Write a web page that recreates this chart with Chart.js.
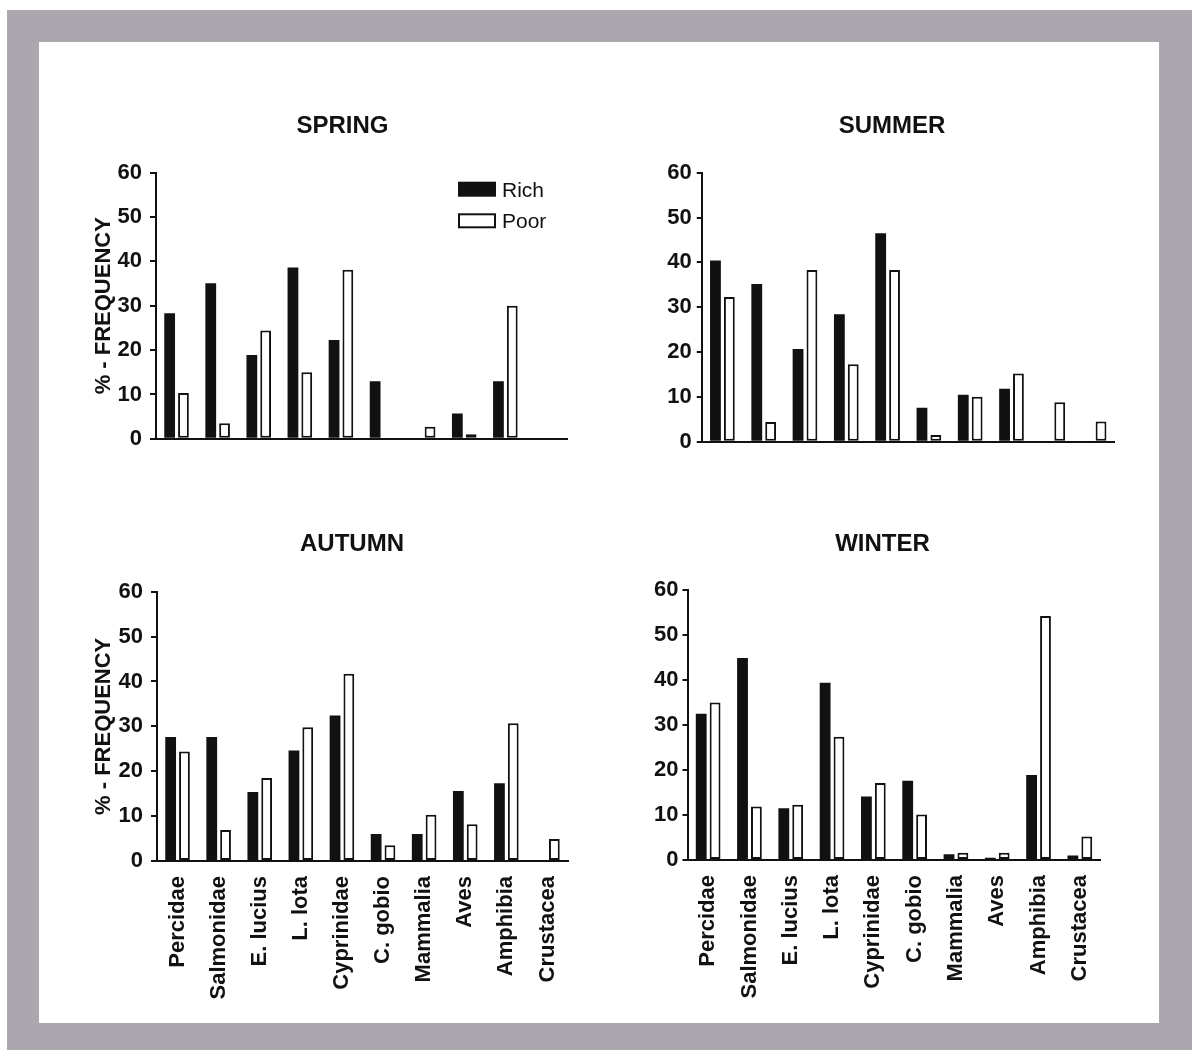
<!DOCTYPE html>
<html>
<head>
<meta charset="utf-8">
<script src="https://cdn.jsdelivr.net/npm/chart.js@4.4.0/dist/chart.umd.min.js"></script>
<style>
body{margin:0;width:1192px;height:1050px;background:#fff;position:relative;overflow:hidden}
#frame{position:absolute;left:7px;top:10px;width:1185px;height:1040px;background:#aca6ae}
#inner{position:absolute;left:32px;top:32px;width:1120px;height:981px;background:#fff}
canvas{position:absolute}
</style>
</head>
<body>
<div id="frame"><div id="inner"></div></div>
<canvas id="spring"></canvas>
<canvas id="summer"></canvas>
<canvas id="autumn"></canvas>
<canvas id="winter"></canvas>
<script>
// prey categories, same for all four seasons
var categories = ['Percidae', 'Salmonidae', 'E. lucius', 'L. lota', 'Cyprinidae',
                  'C. gobio', 'Mammalia', 'Aves', 'Amphibia', 'Crustacea'];
var seriesNames = ['Rich', 'Poor'];
var yTicks = [0, 10, 20, 30, 40, 50, 60];
var yTitle = '% - FREQUENCY';

var springRich = [28.3, 35.1, 18.9, 38.6, 22.3, 13.0, 0, 5.7, 13.0, 0];
var springPoor = [10.3, 3.5, 24.4, 15.0, 38.1, 0, 2.7, 1.0, 30.0, 0];
var summerRich = [40.4, 35.2, 20.7, 28.4, 46.5, 7.6, 10.5, 11.8, 0, 0];
var summerPoor = [32.3, 4.4, 38.3, 17.3, 38.3, 1.5, 10.0, 15.2, 8.8, 4.5];
var autumnRich = [27.6, 27.6, 15.4, 24.6, 32.4, 6.0, 6.0, 15.6, 17.3, 0];
var autumnPoor = [24.4, 6.9, 18.5, 29.8, 41.7, 3.5, 10.3, 8.2, 30.7, 4.9];
var winterRich = [32.5, 44.9, 11.5, 39.4, 14.1, 17.6, 1.3, 0.5, 18.9, 1.0];
var winterPoor = [35.0, 11.9, 12.3, 27.4, 17.1, 10.1, 1.6, 1.6, 54.2, 5.2];

var INK = '#111';
var NARROW = '"Liberation Sans Narrow", "Arial Narrow", "Liberation Sans", Arial, sans-serif';
var SANS = '"Liberation Sans", Arial, sans-serif';

// season name over each panel
function caption(text, cx, base) {
    return {
        id: 'caption',
        afterDraw: function(chart) {
            var ctx = chart.ctx;
            ctx.save();
            ctx.font = 'bold 24px ' + SANS;
            ctx.fillStyle = INK;
            ctx.textAlign = 'center';
            ctx.textBaseline = 'alphabetic';
            ctx.fillText(text, cx, base);
            ctx.restore();
        }
    };
}

// little legend that sits inside the spring plot
var innerLegend = {
    id: 'innerLegend',
    afterDraw: function(chart) {
        var ctx = chart.ctx;
        var x = chart.chartArea.left + 302, y = chart.chartArea.top + 9;
        ctx.save();
        ctx.font = '21px ' + SANS;
        ctx.textBaseline = 'alphabetic';
        chart.data.datasets.forEach(function(ds, i) {
            var top = y + i * 31.6;
            ctx.fillStyle = ds.backgroundColor;
            ctx.fillRect(x, top, 38, 15);
            if (ds.borderWidth) {
                ctx.strokeStyle = ds.borderColor;
                ctx.lineWidth = 2;
                ctx.strokeRect(x + 1, top + 1, 36, 13);
            }
            ctx.fillStyle = INK;
            ctx.fillText(ds.label, x + 44, top + 15);
        });
        ctx.restore();
    }
};

function panel(id, box, area, title, rich, poor, opt) {
    var c = document.getElementById(id);
    c.width = box.w; c.height = box.h;
    c.style.left = box.x + 'px'; c.style.top = box.y + 'px';
    c.style.width = box.w + 'px'; c.style.height = box.h + 'px';
    var yW = area.l - box.x;
    var xH = box.y + box.h - area.b;
    var plugins = [caption(title, opt.cx - box.x, opt.base - box.y)];
    if (opt.legend) plugins.push(innerLegend);

    new Chart(c, {
        type: 'bar',
        data: {
            labels: categories,
            datasets: [
                { label: seriesNames[0], data: rich, backgroundColor: INK, borderColor: INK, borderWidth: 0 },
                { label: seriesNames[1], data: poor, backgroundColor: '#fff', borderColor: INK, borderWidth: 2, borderSkipped: false }
            ]
        },
        options: {
            responsive: false,
            animation: false,
            devicePixelRatio: 1,
            categoryPercentage: 0.672,
            barPercentage: 0.78,
            layout: { padding: { left: 0, top: area.t - box.y, right: box.x + box.w - area.r, bottom: 0 } },
            plugins: { legend: { display: false }, tooltip: { enabled: false }, title: { display: false } },
            scales: {
                x: {
                    grid: { display: false },
                    border: { display: true, color: INK, width: 2 },
                    ticks: {
                        display: !!opt.labels, autoSkip: false, minRotation: 90, maxRotation: 90,
                        padding: 7, color: INK, font: { family: SANS, size: 22, weight: 'bold' }
                    },
                    afterFit: function(s) { s.height = xH; }
                },
                y: {
                    min: 0, max: 60,
                    afterBuildTicks: function(s) { s.ticks = yTicks.map(function(v) { return { value: v }; }); },
                    grid: { drawOnChartArea: false, drawTicks: true, tickLength: opt.tick, color: INK, lineWidth: 2 },
                    border: { display: true, color: INK, width: 2 },
                    ticks: { padding: opt.pad, color: INK, font: { family: NARROW, size: 22, weight: 'bold' } },
                    title: {
                        display: !!opt.yTitle, text: yTitle, color: INK,
                        padding: { top: 10.8, bottom: 0 },
                        font: { family: SANS, size: 22, weight: 'bold' }
                    },
                    afterFit: function(s) { s.width = yW; }
                }
            }
        },
        plugins: plugins
    });
}

panel('spring', { x: 80, y: 100, w: 520, h: 360 }, { l: 156, r: 567, t: 172.7, b: 441.7 },
      'SPRING', springRich, springPoor, { cx: 342.5, base: 133.3, tick: 6, pad: 8, yTitle: true, legend: true });
panel('summer', { x: 620, y: 100, w: 520, h: 360 }, { l: 701.75, r: 1114.75, t: 172.7, b: 441.7 },
      'SUMMER', summerRich, summerPoor, { cx: 892, base: 133.3, tick: 5, pad: 5 });
panel('autumn', { x: 80, y: 500, w: 520, h: 500 }, { l: 157, r: 568, t: 591.7, b: 861 },
      'AUTUMN', autumnRich, autumnPoor, { cx: 352, base: 550.5, tick: 6, pad: 8, yTitle: true, labels: true });
panel('winter', { x: 620, y: 500, w: 520, h: 500 }, { l: 687.5, r: 1100.5, t: 590, b: 860 },
      'WINTER', winterRich, winterPoor, { cx: 882.5, base: 550.7, tick: 5, pad: 4, labels: true });
</script>
</body>
</html>
